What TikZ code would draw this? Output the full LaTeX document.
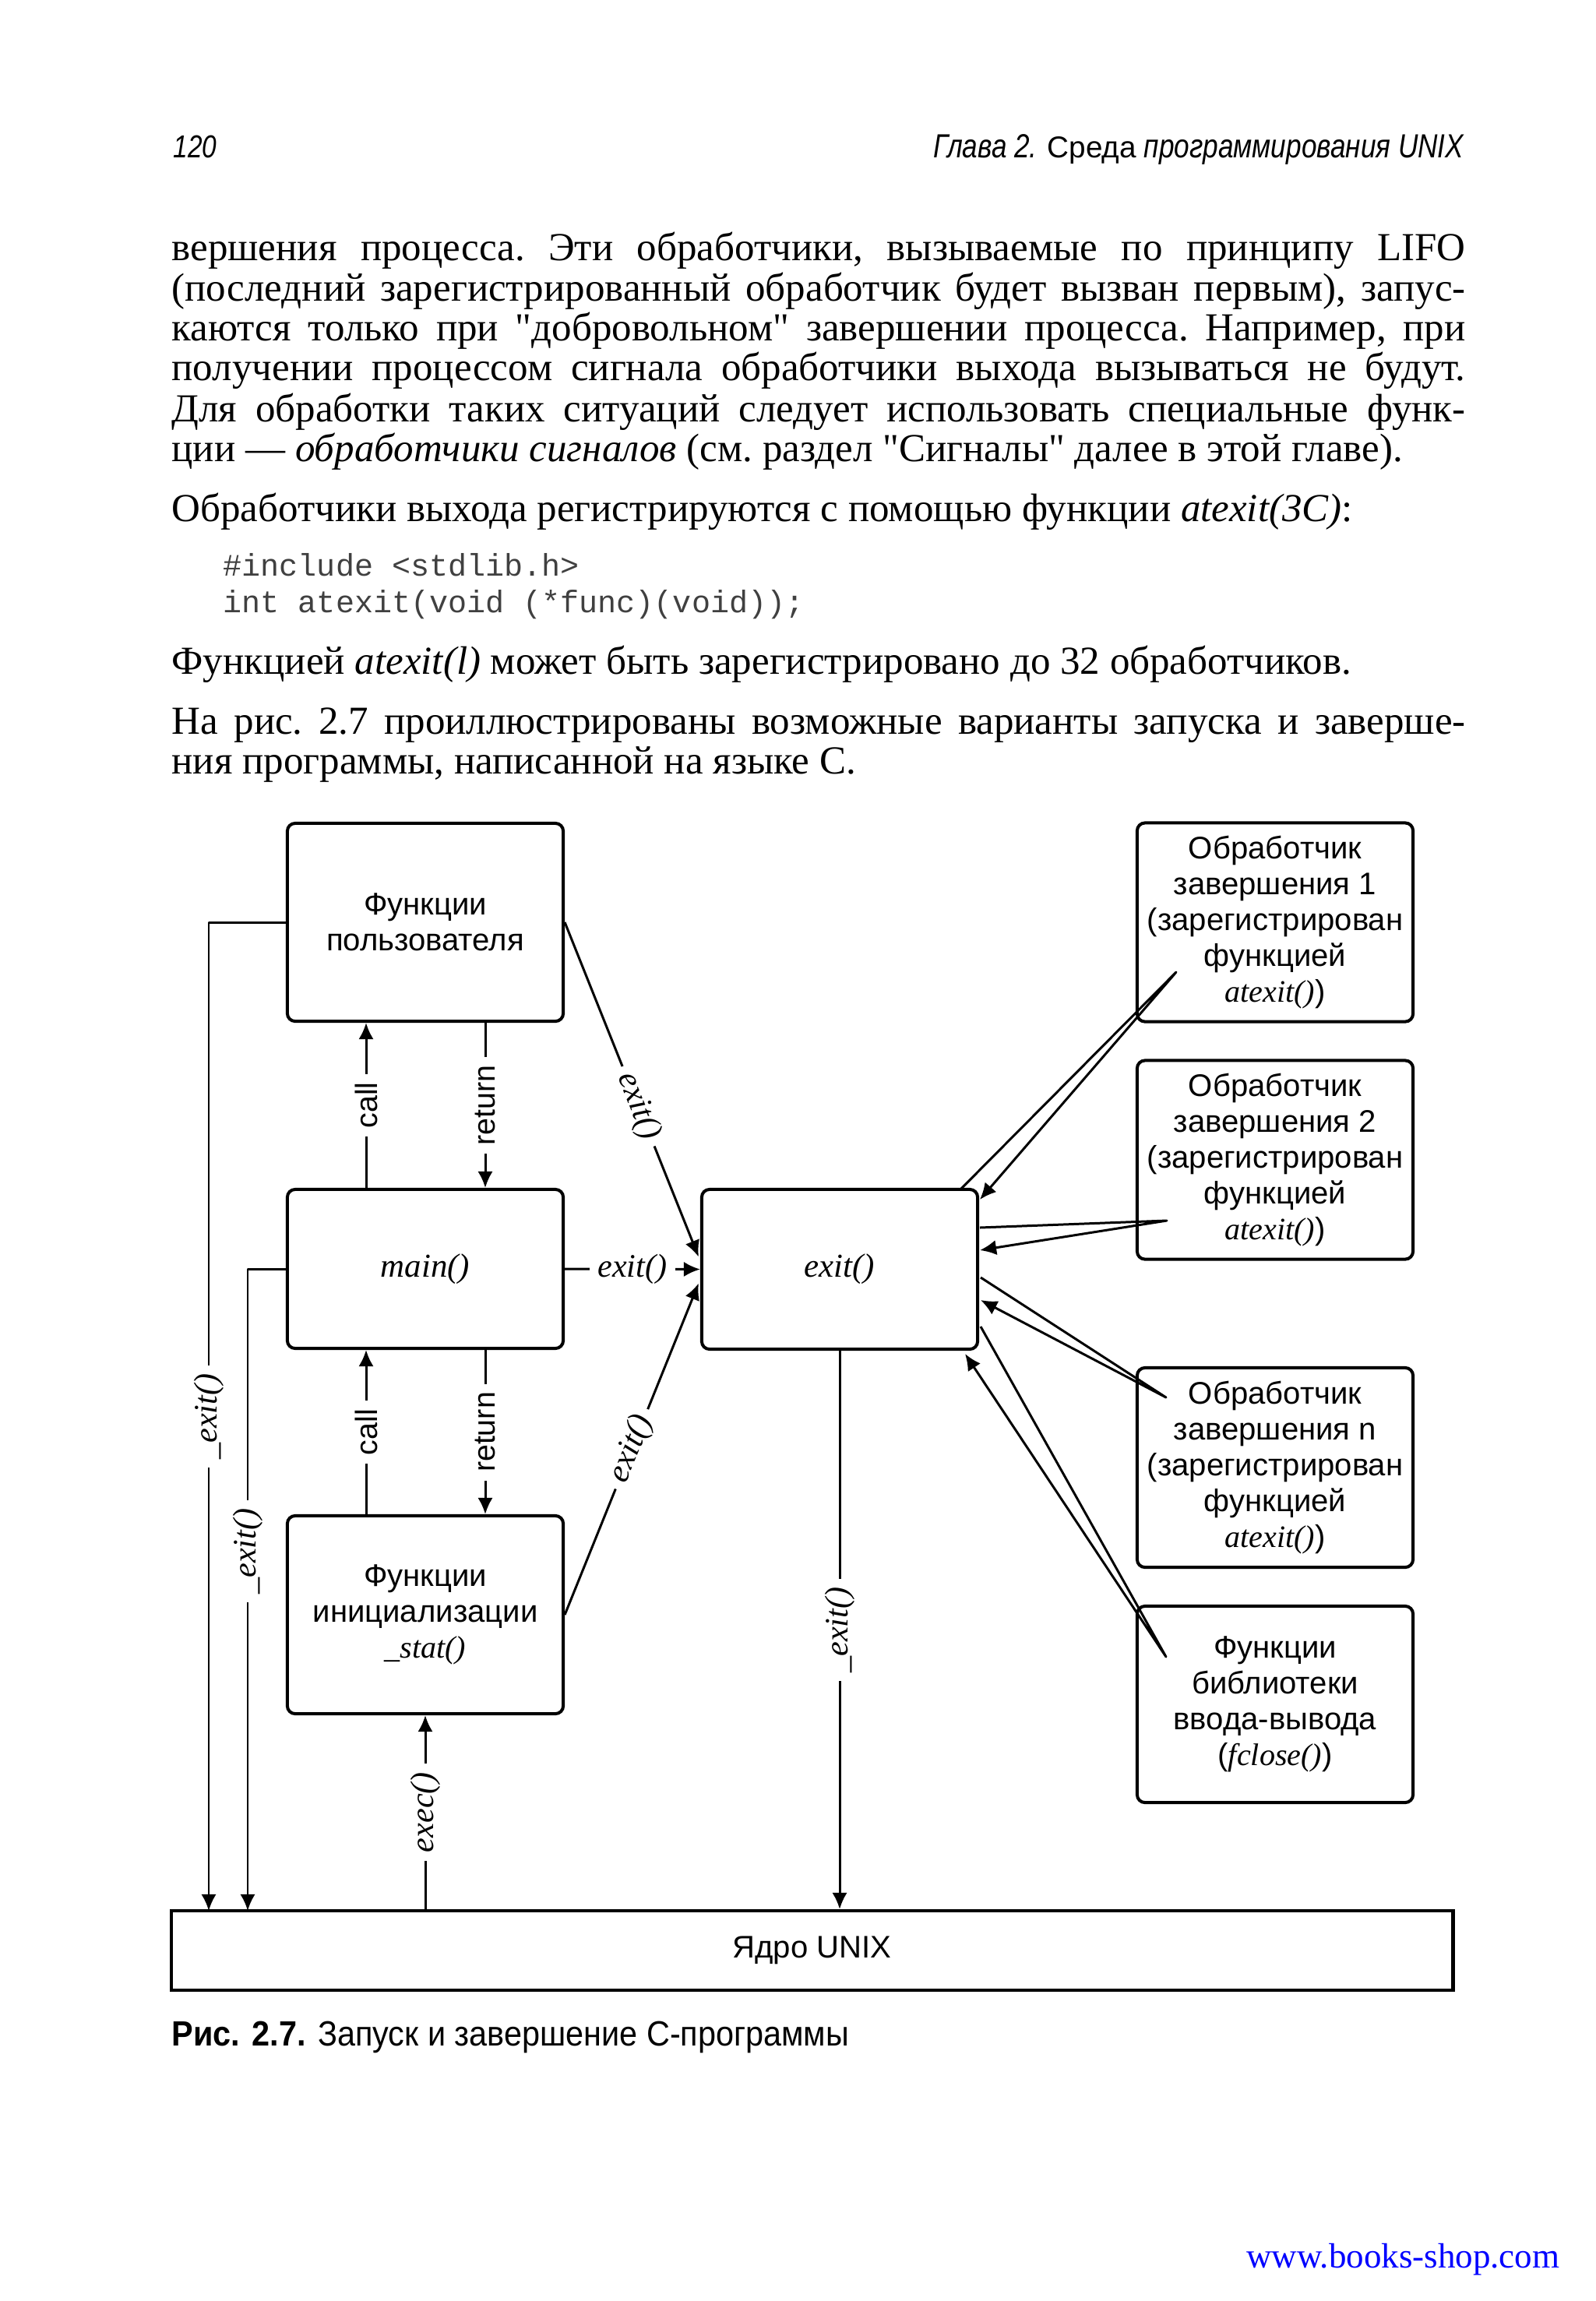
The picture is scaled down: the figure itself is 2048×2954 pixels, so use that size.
\documentclass[tikz,border=0pt]{standalone}
\usepackage{fontspec}
\setmainfont{Liberation Serif}[Ligatures=TeXOff]
\newfontfamily\sansf{Liberation Sans}
\newfontfamily\headf[FakeStretch=0.82]{Liberation Sans}
\newfontfamily\capf[FakeStretch=0.92]{Liberation Sans}
\newfontfamily\monof{Liberation Mono}
\usetikzlibrary{arrows.meta,calc}
\definecolor{linkblue}{RGB}{0,0,255}
\begin{document}
\begin{tikzpicture}[x=0.01cm,y=-0.01cm,
  box/.style={draw, line width=1.14pt, rounded corners=0.1cm, minimum width=3.54cm,
    align=center, inner sep=0pt, font=\sansf\fontsize{11.4pt}{13.1pt}\selectfont},
  itbox/.style={box, font=\rmfamily\itshape\fontsize{12.2pt}{14pt}\selectfont},
  conn/.style={line width=0.85pt, line join=round},
  arr/.style={conn, -{Latex[length=6pt,width=5.5pt]}},
  slab/.style={fill=white, inner sep=3pt, font=\sansf\fontsize{11.2pt}{13pt}\selectfont},
  ilab/.style={fill=white, inner sep=3pt, font=\rmfamily\itshape\fontsize{12pt}{14pt}\selectfont},
  body/.style={anchor=base west, inner sep=0pt, font=\rmfamily\frenchspacing\fontsize{14.5pt}{15pt}\selectfont},
  code/.style={anchor=base west, inner sep=0pt, text=black!75, font=\monof\fontsize{11.4pt}{13pt}\selectfont}
]
\useasboundingbox (0,0) rectangle (2048,2954);
\fill[white] (0,0) rectangle (2048,2954);

% header
\node[anchor=base west, inner sep=0pt, font=\headf\itshape\fontsize{11.6pt}{13pt}\selectfont] (pgno) at (222,202) {120};
\node[anchor=base east, inner sep=0pt, font=\headf\itshape\fontsize{12.2pt}{14pt}\selectfont] (head) at (1880,202) {Глава 2. {\sansf\upshape\fontsize{11pt}{12pt}\selectfont Среда} программирования UNIX};

% body text
\node[body] (l1) at (220,334) {\makebox[16.6cm][s]{вершения процесса. Эти обработчики, вызываемые по принципу LIFO}};
\node[body] (l2) at (220,386) {\makebox[16.6cm][s]{(последний зарегистрированный обработчик будет вызван первым), запус-}};
\node[body] (l3) at (220,437) {\makebox[16.6cm][s]{каются только при "добровольном" завершении процесса. Например, при}};
\node[body] (l4) at (220,488) {\makebox[16.6cm][s]{получении процессом сигнала обработчики выхода вызываться не будут.}};
\node[body] (l5) at (220,541) {\makebox[16.6cm][s]{Для обработки таких ситуаций следует использовать специальные функ-}};
\node[body] (l6) at (220,592) {ции — \textit{обработчики сигналов} (см. раздел "Сигналы" далее в этой главе).};
\node[body] (p2) at (220,669) {Обработчики выхода регистрируются с помощью функции \textit{atexit(3C)}:};
\node[code] (c1) at (286,739) {\#include <stdlib.h>};
\node[code] (c2) at (286,786) {int atexit(void (*func)(void));};
\node[body] (p3) at (220,865) {Функцией \textit{atexit(l)} может быть зарегистрировано до 32 обработчиков.};
\node[body] (p4) at (220,942) {\makebox[16.6cm][s]{На рис. 2.7 проиллюстрированы возможные варианты запуска и заверше-}};
\node[body] (p5) at (220,993) {ния программы, написанной на языке С.};

% boxes
\node[box, minimum height=2.54cm] (UF) at (546,1184) {Функции\\пользователя};
\node[itbox, minimum height=2.04cm] (main) at (546,1629) {main()};
\node[box, minimum height=2.54cm] (init) at (546,2073) {Функции\\инициализации\\{\rmfamily\itshape \_stat()}};
\node[itbox, minimum height=2.05cm] (exitb) at (1078,1629.5) {exit()};
\node[box, minimum height=2.55cm] (H1) at (1637,1184) {Обработчик\\завершения 1\\(зарегистрирован\\функцией\\{\rmfamily\itshape atexit()})};
\node[box, minimum height=2.55cm] (H2) at (1637,1489) {Обработчик\\завершения 2\\(зарегистрирован\\функцией\\{\rmfamily\itshape atexit()})};
\node[box, minimum height=2.56cm] (Hn) at (1637,1884) {Обработчик\\завершения n\\(зарегистрирован\\функцией\\{\rmfamily\itshape atexit()})};
\node[box, minimum height=2.52cm] (Lib) at (1637,2188) {Функции\\библиотеки\\ввода-вывода\\({\rmfamily\itshape fclose()})};
\node[draw, line width=1.14pt, minimum width=16.45cm, minimum height=1.02cm, inner sep=0pt,
  font=\sansf\fontsize{11.4pt}{13pt}\selectfont] (kern) at (1042.5,2504) {Ядро UNIX};

% call / return
\draw[arr] ($(main.north)+(-76,0)$) -- node[slab, rotate=90]{call} ($(UF.south)+(-76,0)$);
\draw[arr] ($(UF.south)+(77,0)$) -- node[slab, rotate=90]{return} ($(main.north)+(77,0)$);
\draw[arr] ($(init.north)+(-76,0)$) -- node[slab, rotate=90]{call} ($(main.south)+(-76,0)$);
\draw[arr] ($(main.south)+(77,0)$) -- node[slab, rotate=90]{return} ($(init.north)+(77,0)$);

% exec and _exit
\draw[arr] (init.south |- kern.north) -- node[ilab, rotate=90]{exec()} (init.south);
\draw[arr] (exitb.south) -- node[ilab, rotate=90]{\_exit()} (exitb.south |- kern.north);
\coordinate (k1) at (268,2453);
\coordinate (k2) at (318,2453);
\draw[arr] (UF.west) -| node[ilab, rotate=90, pos=0.75]{\_exit()} (k1);
\draw[arr] (main.west) -| node[ilab, rotate=90, pos=0.72]{\_exit()} (k2);

% exit() calls
\coordinate (e1) at ($(exitb.west)+(-2,-16)$);
\coordinate (e2) at ($(exitb.west)+(-2,18)$);
\draw[arr] (main.east) -- node[ilab]{exit()} (exitb.west);
\draw[arr] (UF.east) -- node[ilab, sloped, pos=0.55]{exit()} (e1);
\draw[arr] (init.east) -- node[ilab, sloped]{exit()} (e2);

% handler spikes
\coordinate (s1a) at (1233,1527); \coordinate (t1) at (1510,1248); \coordinate (s1b) at (1258,1540);
\coordinate (s2a) at (1258,1576); \coordinate (t2) at (1498,1567); \coordinate (s2b) at (1258,1605);
\coordinate (s3a) at (1259,1640); \coordinate (t3) at (1497,1794); \coordinate (s3b) at (1259,1669);
\coordinate (s4a) at (1259,1703); \coordinate (t4) at (1497,2127); \coordinate (s4b) at (1239,1738);
\draw[arr] (s1a) -- (t1) -- (s1b);
\draw[arr] (s2a) -- (t2) -- (s2b);
\draw[arr] (s3a) -- (t3) -- (s3b);
\draw[arr] (s4a) -- (t4) -- (s4b);

% caption and watermark
\node[anchor=base west, inner sep=0pt, font=\capf\fontsize{12.8pt}{15pt}\selectfont] (cap) at (220,2626) {{\bfseries Рис. 2.7.} Запуск и завершение С-программы};
\node[anchor=base east, inner sep=0pt, text=linkblue, font=\rmfamily\fontsize{12.8pt}{15pt}\selectfont] (wm) at (2003,2911) {www.books-shop.com};
\end{tikzpicture}
\end{document}
